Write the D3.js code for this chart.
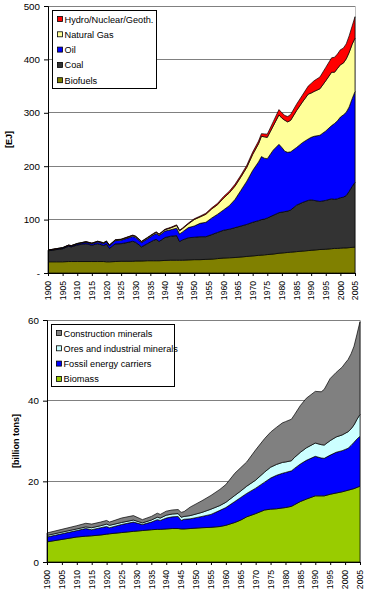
<!DOCTYPE html>
<html><head><meta charset="utf-8">
<script src="https://cdn.jsdelivr.net/npm/d3@7"></script>
<style>
body{margin:0;background:#fff;}
svg{display:block;font-family:"Liberation Sans",Arial,sans-serif;}
</style></head>
<body><svg id="c" width="367" height="600"></svg>
<script>
// ---------- Top chart: primary energy [EJ] ----------
const energyYears = [1900,1903,1905,1907,1908,1910,1913,1915,1917,1919,1920,1921,1923,1925,1927,1929,1930,1932,1934,1936,1937,1938,1940,1942,1944,1945,1946,1948,1950,1952,1954,1956,1958,1960,1962,1964,1966,1968,1970,1972,1973,1974,1975,1977,1979,1980,1981,1982,1983,1985,1987,1989,1990,1991,1993,1995,1997,1998,1999,2000,2001,2002,2003,2004,2005];
const biofuels = [21,21,21,21.5,21.5,21.5,21.5,21.5,21.5,21.5,21,21,21.5,22,22,22,22.5,22.5,23,23,23,23,23.5,24,24,24,24,24.5,25,25,25.5,26,27,28,28.5,29,30,31,32,33,33.5,34,34.5,35.5,37,37.5,38,38.5,39,40,41,42,42.5,43,44,44.5,45.5,46,46,46.5,47,47,47.5,48,48.5];
const coal = [20.5,23,24.5,28.5,27.5,31,33.5,30.5,33.5,30,33,25,33,33,35,37.5,35,26.5,32,38,40,36,43,45,46,35,38,41.5,42,43,42.5,46,49,52,53.5,56,58,60,63,65,66.5,67,68.5,72.5,76,76.5,77,77.5,79,87,91,94,94.5,93,90,91.5,93.5,92,93,94.5,95,98,105.5,114,121.5];
const oil = [0.8,1,1.2,1.4,1.5,1.8,2.5,2.8,3.2,3.8,4.5,5,6,6.5,8,9,9,8,9,10,11,11,12,12,14,14,15,19,21,25,27,31,34,38,44,53,67,81,97,110,118,114,111,122,128,121,113,110,109,108,112,115,117,120,124,130,137,142,146,151,154,156,158,164,170];
const naturalGas = [0.5,0.6,0.6,0.7,0.7,0.8,0.9,0.9,1,1,1,1,1.2,1.3,1.5,1.8,1.8,1.7,1.8,2,2.2,2.2,2.5,3.5,5,6,6,7,12,12,15,17,18,22,24,25,25,26,30,34,38,40,40,45,55,55,58,57,59,69,76,84,83,84,87,94,100,96,98,98,97,100,102,102,100];
const hydroNuclearGeoth = [0.2,0.2,0.2,0.2,0.3,0.3,0.4,0.4,0.4,0.5,0.5,0.5,0.6,0.6,0.7,0.7,0.7,0.7,0.8,0.9,0.9,1,1,1.1,1.2,1.2,1.2,1.4,1.5,1.5,2,2,2.5,3,3,3.5,3.5,4,4.5,5,5,5.5,6,8,10,10,9,10,11,12,13,15,18,20,22,25,27,28,27,28,28,28,31,34,40];
const energyNames = ["Biofuels","Coal","Oil","Natural Gas","Hydro/Nuclear/Geoth."];
const energyColors = ["#808000","#333333","#0000ff","#ffff99","#ff0000"];
const energyTicks = [0,100,200,300,400,500];

// ---------- Bottom chart: materials [billion tons] ----------
const materialYears = [1900,1905,1910,1913,1915,1918,1920,1921,1925,1929,1932,1935,1937,1938,1940,1942,1944,1945,1946,1948,1950,1952,1955,1958,1960,1963,1965,1967,1970,1973,1975,1977,1979,1980,1982,1983,1985,1987,1990,1992,1993,1995,1997,1999,2000,2001,2002,2003,2004,2005];
const biomass = [5.0,5.6,6.2,6.4,6.5,6.7,6.9,7.0,7.3,7.6,7.8,8.0,8.1,8.1,8.2,8.3,8.3,8.2,8.2,8.3,8.4,8.5,8.6,8.8,9.1,9.8,10.4,11.2,12.0,12.9,13.1,13.2,13.4,13.5,13.8,14.2,15.0,15.6,16.4,16.4,16.4,16.8,17.1,17.4,17.6,17.8,18.0,18.2,18.5,18.8];
const fossilCarriers = [1.2,1.4,1.6,1.9,1.5,1.8,1.9,1.5,2.0,2.3,1.5,1.9,2.4,2.2,2.7,2.9,3.0,2.1,2.4,2.4,2.6,2.8,3.2,4.0,4.4,5.2,5.6,5.8,6.3,6.9,7.7,8.3,8.6,8.7,8.8,9.0,9.3,9.6,9.8,9.4,9.3,9.7,10.1,10.2,10.3,10.4,10.9,11.5,12.0,12.4];
const oresIndustrial = [0.4,0.4,0.4,0.4,0.5,0.5,0.6,0.6,0.5,0.5,0.4,0.5,0.6,0.6,0.7,0.7,0.7,0.8,0.7,0.8,0.9,1.0,1.3,1.2,1.3,1.5,1.6,1.8,2.0,2.5,2.7,2.7,2.7,2.6,2.5,2.7,2.9,3.1,3.3,3.3,3.3,3.6,3.8,3.9,4.0,4.1,4.1,4.3,4.9,5.4];
const construction = [0.6,0.7,0.8,0.9,0.9,0.9,0.9,0.8,1.1,1.1,0.8,0.9,1.0,0.9,1.0,1.0,1.0,1.2,1.2,2.1,2.5,2.9,3.4,4.0,4.4,5.5,5.8,6.0,7.5,8.3,8.7,9.2,9.8,10.0,10.3,10.6,11.6,12.3,12.8,13.1,13.8,15.4,16.0,16.8,17.4,17.9,18.6,19.5,21.1,23.0];
const materialNames = ["Biomass","Fossil energy carriers","Ores and industrial minerals","Construction minerals"];
const materialColors = ["#99cc00","#0000ff","#ccffff","#808080"];
const materialTicks = [0,20,40,60];

const yearTicks = d3.range(1900, 2006, 5);

const svg = d3.select("#c");
svg.append("rect").attr("width",367).attr("height",600).attr("fill","#fff");

function drawChart(cfg){
  const g = svg.append("g");
  const x = d3.scaleLinear().domain([1900,2005]).range([cfg.x0,cfg.x1]);
  const y = d3.scaleLinear().domain([0,cfg.ymax]).range([cfg.y0,cfg.y1]);
  const rows = cfg.years.map((yr,i)=>{const o={year:yr}; cfg.series.forEach((s,k)=>o[k]=s[i]); return o;});
  const keys = cfg.series.map((s,k)=>k);
  const stacked = d3.stack().keys(keys)(rows);

  // gridlines
  g.append("g").selectAll("line").data(cfg.ticks.filter(t=>t>0)).join("line")
    .attr("x1",cfg.x0).attr("x2",cfg.x1).attr("y1",d=>y(d)).attr("y2",d=>y(d))
    .attr("stroke","#808080").attr("stroke-width",1).attr("shape-rendering","crispEdges");
  // right border
  g.append("line").attr("x1",cfg.x1).attr("x2",cfg.x1).attr("y1",cfg.y1).attr("y2",cfg.y0)
    .attr("stroke","#c0c0c0").attr("shape-rendering","crispEdges");

  const area = d3.area().x(d=>x(d.data.year)).y0(d=>y(d[0])).y1(d=>y(d[1]));
  g.append("g").selectAll("path").data(stacked).join("path")
    .attr("d",area).attr("fill",(d,i)=>cfg.colors[i])
    .attr("stroke","#000").attr("stroke-width",0.7).attr("stroke-linejoin","round");

  // y axis
  const ya = d3.axisLeft(y).tickValues(cfg.ticks).tickSize(4).tickPadding(4).tickFormat(cfg.yfmt);
  const yg = g.append("g").attr("transform",`translate(${cfg.x0},0)`).call(ya);
  yg.select(".domain").attr("stroke","#000");
  yg.selectAll("text").attr("font-size","9.8px").attr("fill","#000").attr("font-family","Liberation Sans, Arial, sans-serif");

  // x axis
  const xa = d3.axisBottom(x).tickValues(yearTicks).tickSize(3).tickFormat("");
  const xg = g.append("g").attr("transform",`translate(0,${cfg.y0})`).call(xa);
  xg.select(".domain").attr("stroke","#000");
  g.append("g").selectAll("text").data(yearTicks).join("text")
    .attr("transform",d=>`translate(${x(d)+3.2},${cfg.y0+8}) rotate(-90)`)
    .attr("text-anchor","end").attr("font-size","8.6px").attr("fill","#000")
    .text(d=>d);

  // y title
  g.append("text").attr("transform",`translate(${cfg.titleX},${(cfg.y0+cfg.y1)/2}) rotate(-90)`)
    .attr("text-anchor","middle").attr("font-size","9px").attr("font-weight","bold").text(cfg.title);

  // legend
  const L = cfg.legend;
  g.append("rect").attr("x",L.x+0.5).attr("y",L.y+0.5).attr("width",L.w).attr("height",L.h)
    .attr("fill","#fff").attr("stroke","#000").attr("stroke-width",1);
  const order = keys.slice().reverse();
  const li = g.append("g").selectAll("g").data(order).join("g")
    .attr("transform",(d,i)=>`translate(${L.x+5},${L.y+9+i*L.step})`);
  li.append("rect").attr("x",0.5).attr("y",-2.5).attr("width",5).attr("height",5)
    .attr("fill",d=>cfg.colors[d]).attr("stroke","#000").attr("stroke-width",0.8);
  li.append("text").attr("x",7.5).attr("y",3.5).attr("font-size","9.2px").attr("fill","#000")
    .text(d=>cfg.names[d]);
}

drawChart({
  x0:48,x1:355,y0:273,y1:6,ymax:500,years:energyYears,
  series:[biofuels,coal,oil,naturalGas,hydroNuclearGeoth],
  colors:energyColors,names:energyNames,ticks:energyTicks,
  yfmt:d=>d===0?"-":d,title:"[EJ]",titleX:12,
  legend:{x:52,y:10,w:104,h:78,step:15.3}
});
drawChart({
  x0:47,x1:360,y0:562,y1:320,ymax:60,years:materialYears,
  series:[biomass,fossilCarriers,oresIndustrial,construction],
  colors:materialColors,names:materialNames,ticks:materialTicks,
  yfmt:d=>d,title:"[billion tons]",titleX:19,
  legend:{x:51,y:324,w:123,h:62,step:15.3}
});
</script></body></html>
